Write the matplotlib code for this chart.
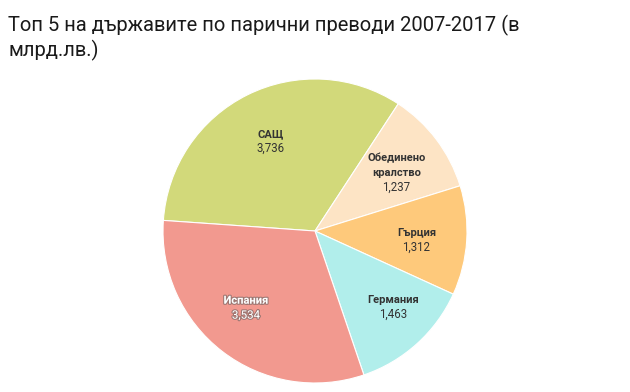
import numpy as np
import matplotlib
matplotlib.use('Agg')
import matplotlib.pyplot as plt
import matplotlib.patheffects as pe

### Data
labels = ['САЩ', 'Обединено\nкралство', 'Гърция', 'Германия', 'Испания']
values = [3.736, 1.237, 1.312, 1.463, 3.534]
valtext = ['3,736', '1,237', '1,312', '1,463', '3,534']
colors = ['#d2d97a', '#fde4c5', '#fec97b', '#b1eeeb', '#f2998f']

plt.rcParams['font.family'] = ['Roboto', 'DejaVu Sans']

fig = plt.figure(figsize=(6.3, 3.92), dpi=100)
fig.patch.set_facecolor('white')

### Title
fig.text(8/630, 1 - 31/392, 'Топ 5 на държавите по парични преводи 2007-2017 (в',
         fontsize=14.5, color='#1a1a1a', ha='left', va='baseline')
fig.text(8/630, 1 - 56/392, 'млрд.лв.)',
         fontsize=14.5, color='#1a1a1a', ha='left', va='baseline')

### Pie
ax = fig.add_axes([163/630, 9/392, 304/630, 304/392])
wedges, _ = ax.pie(values, colors=colors, startangle=176, counterclock=False,
                   radius=1, wedgeprops=dict(edgecolor='white', linewidth=0.8))
ax.set_xlim(-1, 1)
ax.set_ylim(-1, 1)
ax.set_aspect('equal')
ax.axis('off')

# label placement tweaks (radius fraction, angle offset in degrees)
dist = [0.66, 0.66, 0.67, 0.72, 0.68]
dang = [0.0, -1.5, -1.5, 3.6, -4.3]
lh = 0.095  # line height in radius units
for i, w in enumerate(wedges):
    ang = np.deg2rad((w.theta1 + w.theta2) / 2 + dang[i])
    x = dist[i] * np.cos(ang)
    y = dist[i] * np.sin(ang)
    if i == 4:
        col = 'white'
        fx = [pe.withStroke(linewidth=1.6, foreground='#5a5a5a', alpha=0.55)]
    else:
        col = '#333333'
        fx = None
    lines = labels[i].split('\n') + [valtext[i]]
    n = len(lines)
    for j, s in enumerate(lines):
        yy = y + (n - 1) / 2 * lh - j * lh
        bold = j < n - 1
        ax.text(x, yy, s, ha='center', va='center',
                fontsize=8 if bold else 8.3,
                fontweight='bold' if bold else 'normal',
                color=col, path_effects=fx)

plt.savefig('out.png', dpi=100, facecolor='white')
